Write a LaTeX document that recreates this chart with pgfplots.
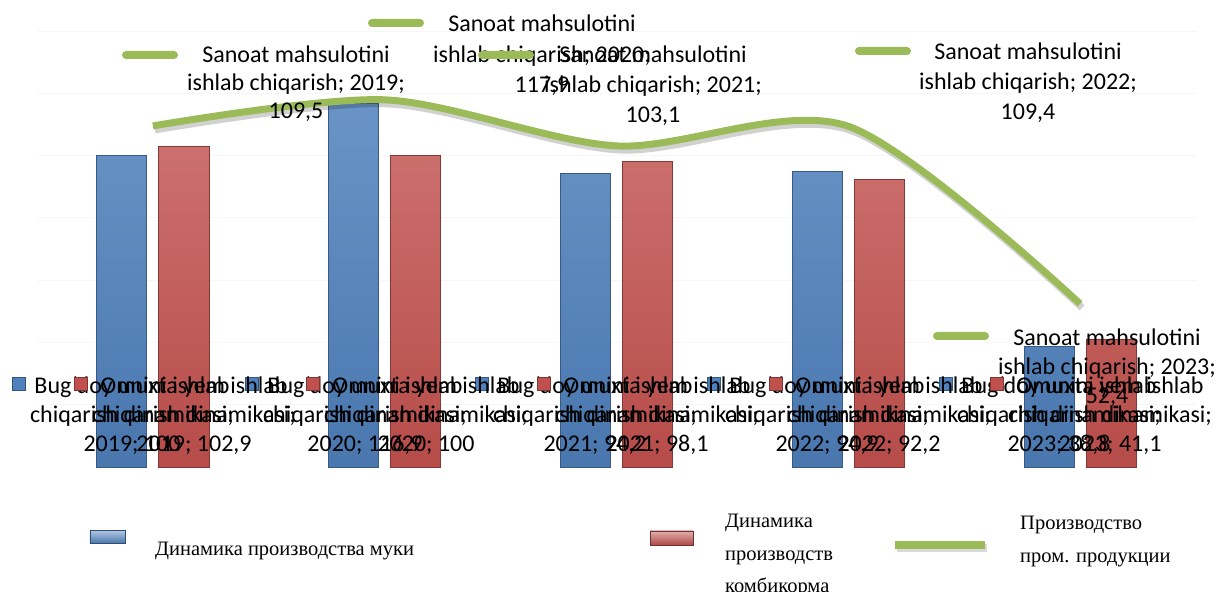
\documentclass[border=0pt]{standalone}
\usepackage{pgfplots}
\pgfplotsset{compat=1.18}
\usepackage{pgfplotstable}
\usepackage{fontspec}
\setmainfont{Carlito}
\newfontfamily\timesf{Liberation Serif}
\definecolor{barblue}{HTML}{4F81BD}
\definecolor{barred}{HTML}{C0504D}
\definecolor{linegreen}{HTML}{9BBB59}
\newcommand{\lblfont}{\fontsize{24bp}{29bp}\selectfont}
\newcommand{\legfont}{\timesf\fontsize{20.5bp}{25bp}\selectfont}
\pgfplotstableread{
x blue red line
0 100   102.9 109.5
1 116.9 100   117.9
2 94.2  98.1  103.1
3 94.9  92.2  109.4
4 38.8  41.1  52.4
}\datatable
% x, first line y (image px), line spacing, three lines
\newcommand{\three}[6]{%
  \node[lbl] at (#1,{584-#2}) {#4};
  \node[lbl] at (#1,{584-#2-#3}) {#5};
  \node[lbl] at (#1,{584-#2-2*#3}) {#6};}
\begin{document}
\begin{tikzpicture}
\useasboundingbox (0,0) rectangle (1219bp,592bp);
\begin{axis}[
  at={(37bp,125bp)}, anchor=south west,
  scale only axis, width=1159bp, height=436bp,
  xmin=-0.5, xmax=4.5, ymin=0, ymax=140,
  axis line style={draw=none},
  xtick=\empty, ytick={20,40,...,140}, yticklabels={},
  major tick length=0pt,
  ymajorgrids, major grid style={black!3, line width=0.8bp},
  clip=false,
]
\addplot[ybar, bar width=50bp, bar shift=-31bp,
  top color=barblue!85!white, bottom color=barblue!92!black,
  draw=barblue!70!black, line width=0.8bp] table[x=x,y=blue] {\datatable};
\addplot[ybar, bar width=50bp, bar shift=31bp,
  top color=barred!82!white, bottom color=barred!95!black,
  draw=barred!70!black, line width=0.8bp] table[x=x,y=red] {\datatable};
\addplot[smooth, line width=7bp, black, opacity=0.18, xshift=2bp, yshift=-4bp] table[x=x,y=line] {\datatable};
\addplot[smooth, line width=7bp, linegreen] table[x=x,y=line] {\datatable};
\end{axis}
\begin{scope}[x=1bp,y=1bp,
  lbl/.style={anchor=base, inner sep=0pt, font=\lblfont},
  gkey/.style={fill=linegreen, minimum width=56bp, minimum height=8bp, inner sep=0pt, rounded corners=4bp},
  bkey/.style={fill=barblue, draw=barblue!65!black, minimum size=13bp, inner sep=0pt},
  rkey/.style={fill=barred, draw=barred!65!black, minimum size=13bp, inner sep=0pt},
  leg/.style={anchor=base west, inner sep=0pt, font=\legfont}]
% line labels
\node[gkey] at (150,{592-55}) {};
\three{296}{55}{28}{Sanoat mahsulotini}{ishlab chiqarish; 2019;}{109,5}
\node[gkey] at (396,{592-23}) {};
\three{542}{24}{30.5}{Sanoat mahsulotini}{ishlab chiqarish; 2020;}{117,9}
\node[gkey] at (506,{592-55}) {};
\three{653}{55}{30}{Sanoat mahsulotini}{ishlab chiqarish; 2021;}{103,1}
\node[gkey] at (883,{592-51}) {};
\three{1028}{52}{30}{Sanoat mahsulotini}{ishlab chiqarish; 2022;}{109,4}
\node[gkey] at (961,{592-336}) {};
\three{1107}{337}{29}{Sanoat mahsulotini}{ishlab chiqarish; 2023;}{52,4}
% bar labels blue
\node[bkey] at (19,{592-384}) {};
\three{132}{385}{29}{Bug’doy unini ishlab}{chiqarish dinamikasi;}{2019; 100}
\node[bkey] at (252,{592-384}) {};
\three{365}{385}{29}{Bug’doy unini ishlab}{chiqarish dinamikasi;}{2020; 116,9}
\node[bkey] at (482,{592-384}) {};
\three{595}{385}{29}{Bug’doy unini ishlab}{chiqarish dinamikasi;}{2021; 94,2}
\node[bkey] at (714,{592-384}) {};
\three{827}{385}{29}{Bug’doy unini ishlab}{chiqarish dinamikasi;}{2022; 94,9}
\node[bkey] at (946,{592-384}) {};
\three{1059}{385}{29}{Bug’doy unini ishlab}{chiqarish dinamikasi;}{2023; 38,8}
% bar labels red
\node[rkey] at (81,{592-384}) {};
\three{194}{385}{29}{Omuxta yem ishlab}{chiqarish dinamikasi;}{2019; 102,9}
\node[rkey] at (313,{592-384}) {};
\three{426}{385}{29}{Omuxta yem ishlab}{chiqarish dinamikasi;}{2020; 100}
\node[rkey] at (544,{592-384}) {};
\three{657}{385}{29}{Omuxta yem ishlab}{chiqarish dinamikasi;}{2021; 98,1}
\node[rkey] at (776,{592-384}) {};
\three{889}{385}{29}{Omuxta yem ishlab}{chiqarish dinamikasi;}{2022; 92,2}
\node[rkey] at (997,{592-384}) {};
\three{1110}{385}{29}{Omuxta yem ishlab}{chiqarish dinamikasi;}{2023; 41,1}
% bottom legend
\node[top color=barblue!45!white, bottom color=barblue!90!black, draw=barblue!60!black,
  minimum width=35bp, minimum height=13bp, inner sep=0pt] at (107.5,{592-537}) {};
\node[leg] at (155,{592-555}) {Динамика производства муки};
\node[top color=barred!45!white, bottom color=barred!90!black, draw=barred!60!black,
  minimum width=43bp, minimum height=14bp, inner sep=0pt] at (671.5,{592-538}) {};
\node[leg] at (725,{592-527}) {Динамика};
\node[leg] at (725,{592-560}) {производств};
\node[leg] at (725,{592-592}) {комбикорма};
\node[fill=black, opacity=0.15, minimum width=90bp, minimum height=8bp, inner sep=0pt] at (942,{592-548}) {};
\node[fill=linegreen, minimum width=90bp, minimum height=8bp, inner sep=0pt] at (940,{592-545}) {};
\node[leg] at (1020,{592-529}) {Производство};
\node[leg] at (1020,{592-562}) {пром. продукции};
\end{scope}
\end{tikzpicture}
\end{document}
